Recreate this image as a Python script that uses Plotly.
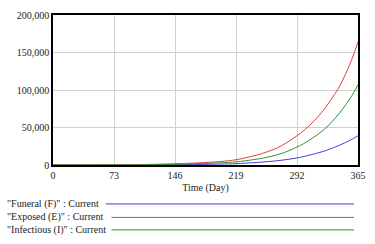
import plotly.graph_objects as go

days = [0, 73, 120, 146, 160, 180, 200, 219, 230, 245, 256, 268, 280, 292, 300, 310, 323, 332, 342, 350, 358, 365]
funeral = [0, 40, 200, 400, 550, 800, 1200, 1800, 2500, 3500, 4400, 5600, 7300, 9500, 11300, 14000, 18000, 21500, 26000, 30000, 34500, 39000]
exposed = [0, 200, 900, 1700, 2200, 3200, 4600, 7000, 9500, 13500, 17500, 22500, 30000, 39000, 46000, 56000, 72000, 86000, 103000, 121000, 142000, 164000]
infectious = [0, 100, 500, 950, 1300, 2000, 2900, 4200, 5600, 8000, 10300, 13500, 18000, 24000, 28500, 35500, 46000, 55500, 68000, 80000, 93000, 107000]

x_ticks = [0, 73, 146, 219, 292, 365]
y_ticks = [0, 50000, 100000, 150000, 200000]

series = [
    ('"Funeral (F)" : Current', funeral, "#4040d8"),
    ('"Exposed (E)" : Current', exposed, "#e04040"),
    ('"Infectious (I)" : Current', infectious, "#309030"),
]

fig = go.Figure()
for name, vals, col in series:
    fig.add_trace(go.Scatter(x=days, y=vals, mode="lines", name=name,
                             line=dict(color=col, width=1, shape="spline", smoothing=1),
                             showlegend=False))

font = "'Times New Roman', 'Liberation Serif', 'DejaVu Serif', serif"
fs = 10
L, R, T, B = 53, 9, 9, 79
W, H = 375, 244
ph = H - T - B
pw = W - L - R

fig.update_layout(
    width=W, height=H,
    margin=dict(l=L, r=R, t=T, b=B),
    paper_bgcolor="white", plot_bgcolor="white",
    font=dict(family=font, size=fs, color="#222"),
    xaxis=dict(range=[0, 365], tickvals=x_ticks, ticktext=[str(v) for v in x_ticks],
               showgrid=True, gridcolor="#d0d0d0", gridwidth=1,
               showline=True, linecolor="black", linewidth=1.5, mirror=True,
               ticks="", zeroline=False, tickfont=dict(family=font, size=fs),
               title=dict(text="Time (Day)", standoff=4, font=dict(family=font, size=fs))),
    yaxis=dict(range=[0, 200000], tickvals=y_ticks,
               ticktext=[f"{v:,}" for v in y_ticks],
               showgrid=True, gridcolor="#d0d0d0", gridwidth=1,
               showline=True, linecolor="black", linewidth=1.5, mirror=True,
               ticks="", zeroline=False, tickfont=dict(family=font, size=fs)),
)

rows_px = [205.5, 219.5, 232.5]
line_start_px = [107, 113, 113]
for (name, vals, col), ypx, xs in zip(series, rows_px, line_start_px):
    yp = (H - B - ypx) / ph
    fig.add_annotation(x=(4 - L) / pw, y=yp, xref="paper", yref="paper",
                       text=name, showarrow=False, xanchor="left", yanchor="middle",
                       font=dict(size=fs, family=font, color="#222"))
    fig.add_shape(type="line", xref="paper", yref="paper",
                  x0=(xs - L) / pw, x1=(362 - L) / pw, y0=yp, y1=yp,
                  line=dict(color=col, width=1))

fig.write_html("out.html")
